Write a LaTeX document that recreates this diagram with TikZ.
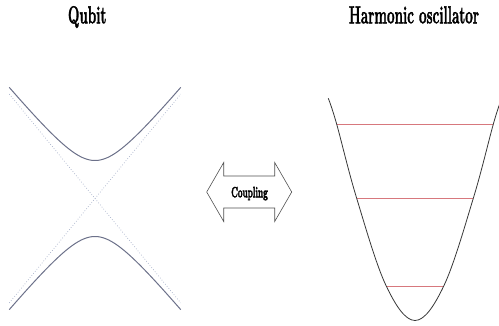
\documentclass[tikz,border=0pt]{standalone}
\usepackage{graphicx}
\usetikzlibrary{calc}
\definecolor{cCurve}{RGB}{108,113,138}
\definecolor{cAsym}{RGB}{165,175,200}
\definecolor{cWell}{RGB}{55,55,55}
\definecolor{cLevel}{RGB}{215,120,125}
\definecolor{cArrow}{RGB}{80,80,80}
\newcommand{\squeezed}[2]{\scalebox{0.55}[1]{\bfseries\fontsize{#1}{#1}\selectfont
  \special{pdf:code 2 Tr 0.5 w}#2\special{pdf:code 0 Tr}}}
\tikzset{
  heading/.style={anchor=base, inner sep=0pt},
  branch/.style={draw=cCurve, line width=1pt},
  asymptote/.style={draw=cAsym, dotted, line width=0.7pt},
  well/.style={draw=cWell, line width=0.8pt},
  level/.style={draw=cLevel, line width=0.9pt},
  arrowshape/.style={draw=cArrow, line width=0.6pt, line join=miter},
}

\begin{document}
\begin{tikzpicture}[x=1pt, y=-1pt]
  \useasboundingbox (0,0) rectangle (499,325);

  % Titles
  \node[heading] (qubit) at (87.2,23.3) {\squeezed{24.5}{Qubit}};
  \node[heading] (osc) at (414,23.3) {\squeezed{24.5}{Harmonic oscillator}};

  % Qubit — avoided crossing
  \coordinate (qc) at (95,198.5);
  \draw[asymptote] ($(qc)+(-85.7,-104.4)$) -- ($(qc)+(85.7,104.4)$);
  \draw[asymptote] ($(qc)+(-85.7,104.4)$) -- ($(qc)+(85.7,-104.4)$);
  \draw[branch] plot[domain=-85.7:85.7, samples=80]
    ({95+\x}, {198.5-38*sqrt(1+(\x/31.2)^2)});
  \draw[branch] plot[domain=-85.7:85.7, samples=80]
    ({95+\x}, {198.5+38*sqrt(1+(\x/31.2)^2)});

  % Coupling double arrow
  \coordinate (cc) at (249.2,192);
  \draw[arrowshape] ($(cc)+(-42.5,0)$) -- ($(cc)+(-25.5,-29.5)$)
    -- ($(cc)+(-25.5,-16)$) -- ($(cc)+(25.5,-16)$)
    -- ($(cc)+(25.5,-29.5)$) -- ($(cc)+(42.5,0)$)
    -- ($(cc)+(25.5,29.5)$) -- ($(cc)+(25.5,16)$)
    -- ($(cc)+(-25.5,16)$) -- ($(cc)+(-25.5,29.5)$) -- cycle;
  \node[heading] (coupling) at (249.5,197.3) {\squeezed{15}{Coupling}};

  % Harmonic oscillator — potential well and levels
  \foreach \ly/\hw in {124/78.3, 198/58.4, 286/28.8}
    \draw[level] ({415-\hw},\ly) -- ({415+\hw},\ly);
  \draw[well] plot[smooth, tension=0.6] coordinates {
    (328.3,98.3) (336.5,123.5) (356.6,198) (386,285.5) (415,320.5)
    (444,285.5) (473.4,198) (493.5,123.5) (501.7,98.3)};

\end{tikzpicture}
\end{document}
